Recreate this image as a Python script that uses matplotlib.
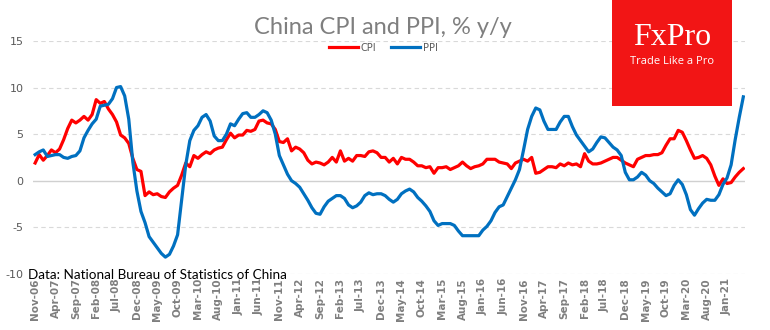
import numpy as np
import pandas as pd
import matplotlib
matplotlib.use("Agg")
import matplotlib.pyplot as plt
from matplotlib.patches import Rectangle

# monthly data, Nov-06 .. May-21
months = pd.date_range("2006-11-01", "2021-05-01", freq="MS")

cpi = [1.9, 2.8,
       2.2, 2.7, 3.3, 3.0, 3.4, 4.4, 5.6, 6.5, 6.2, 6.5, 6.9, 6.5,
       7.1, 8.7, 8.3, 8.5, 7.7, 7.1, 6.3, 4.9, 4.6, 4.0, 2.4, 1.2,
       1.0, -1.6, -1.2, -1.5, -1.4, -1.7, -1.8, -1.2, -0.8, -0.5, 0.6, 1.9,
       1.5, 2.7, 2.4, 2.8, 3.1, 2.9, 3.3, 3.5, 3.6, 4.4, 5.1, 4.6,
       4.9, 4.9, 5.4, 5.3, 5.5, 6.4, 6.5, 6.2, 6.1, 5.5, 4.2, 4.1,
       4.5, 3.2, 3.6, 3.4, 3.0, 2.2, 1.8, 2.0, 1.9, 1.7, 2.0, 2.5,
       2.0, 3.2, 2.1, 2.4, 2.1, 2.7, 2.7, 2.6, 3.1, 3.2, 3.0, 2.5,
       2.5, 2.0, 2.4, 1.8, 2.5, 2.3, 2.3, 2.0, 1.6, 1.6, 1.4, 1.5,
       0.8, 1.4, 1.4, 1.5, 1.2, 1.4, 1.6, 2.0, 1.6, 1.3, 1.5, 1.6,
       1.8, 2.3, 2.3, 2.3, 2.0, 1.9, 1.8, 1.3, 1.9, 2.1, 2.3, 2.1,
       2.5, 0.8, 0.9, 1.2, 1.5, 1.5, 1.4, 1.8, 1.6, 1.9, 1.7, 1.8,
       1.5, 2.9, 2.1, 1.8, 1.8, 1.9, 2.1, 2.3, 2.5, 2.5, 2.2, 1.9,
       1.7, 1.5, 2.3, 2.5, 2.7, 2.7, 2.8, 2.8, 3.0, 3.8, 4.5, 4.5,
       5.4, 5.2, 4.3, 3.3, 2.4, 2.5, 2.7, 2.4, 1.7, 0.5, -0.5, 0.2,
       -0.3, -0.2, 0.4, 0.9, 1.3]

ppi = [2.8, 3.1,
       3.3, 2.6, 2.7, 2.8, 2.8, 2.5, 2.4, 2.6, 2.7, 3.2, 4.6, 5.4,
       6.1, 6.6, 8.0, 8.1, 8.2, 8.8, 10.0, 10.1, 9.1, 6.6, 2.0, -1.1,
       -3.3, -4.5, -6.0, -6.6, -7.2, -7.8, -8.2, -7.9, -7.0, -5.8, -2.1, 1.7,
       4.3, 5.4, 5.9, 6.8, 7.1, 6.4, 4.8, 4.3, 4.3, 5.0, 6.1, 5.9,
       6.6, 7.2, 7.3, 6.8, 6.8, 7.1, 7.5, 7.3, 6.5, 5.0, 2.7, 1.7,
       0.7, 0.0, -0.3, -0.7, -1.4, -2.1, -2.9, -3.5, -3.6, -2.8, -2.2, -1.9,
       -1.6, -1.6, -1.9, -2.6, -2.9, -2.7, -2.3, -1.6, -1.3, -1.5, -1.4, -1.4,
       -1.6, -2.0, -2.3, -2.0, -1.4, -1.1, -0.9, -1.2, -1.8, -2.2, -2.7, -3.3,
       -4.3, -4.8, -4.6, -4.6, -4.6, -4.8, -5.4, -5.9, -5.9, -5.9, -5.9, -5.9,
       -5.3, -4.9, -4.3, -3.4, -2.8, -2.6, -1.7, -0.8, 0.1, 1.2, 3.3, 5.5,
       6.9, 7.8, 7.6, 6.4, 5.5, 5.5, 5.5, 6.3, 6.9, 6.9, 5.8, 4.9,
       4.3, 3.7, 3.1, 3.4, 4.1, 4.7, 4.6, 4.1, 3.6, 3.3, 2.7, 0.9,
       0.1, 0.1, 0.4, 0.9, 0.6, 0.0, -0.3, -0.8, -1.2, -1.6, -1.4, -0.5,
       0.1, -0.4, -1.5, -3.1, -3.7, -3.0, -2.4, -2.0, -2.1, -2.1, -1.5, -0.4,
       0.3, 1.7, 4.4, 6.8, 9.0]

yticks = [-10, -5, 0, 5, 10, 15]
labels = [m.strftime("%b-%y") for m in months]
x = np.arange(len(months))

fig = plt.figure(figsize=(7.7, 3.3), dpi=100)
ax = fig.add_axes([0.043, 0.170, 0.925, 0.706])

ax.plot(x, cpi, color="#ff0000", lw=2.3, label="CPI", solid_joinstyle="round")
ax.plot(x, ppi, color="#0070c0", lw=2.3, label="PPI", solid_joinstyle="round")

ax.set_ylim(-10, 15)
ax.set_xlim(-0.5, 174.5)
ax.set_yticks(yticks)
ax.set_yticklabels([str(v) for v in yticks])
for yv in [-10, -5, 5, 10, 15]:
    ax.axhline(yv, color="#d9d9d9", lw=0.8, ls=(0, (4, 3)), zorder=0)
ax.axhline(0, color="#d0d0d0", lw=1.0, zorder=0)

ax.set_xticks(x[::5])
ax.set_xticklabels(labels[::5], rotation=90, fontsize=7.5, fontweight="bold",
                   color="#7f7f7f")
ax.tick_params(axis="y", labelsize=8, labelcolor="#595959", length=0, pad=7)
ax.tick_params(axis="x", length=0, pad=3)
for s in ax.spines.values():
    s.set_visible(False)

fig.text(0.497, 0.918, "China CPI and PPI, % y/y", ha="center", va="center",
         fontsize=17, color="#7f7f7f", family="Lato")
fig.legend(loc="center", bbox_to_anchor=(0.498, 0.856), ncol=2, frameon=False,
           fontsize=7, labelcolor="#595959", handlelength=3, columnspacing=1.5,
           handletextpad=0.3)

fig.text(0.036, 0.167, "Data: National Bureau of Statistics of China",
         ha="left", va="center", fontsize=9.7, color="black", family="Lato")

# logo block
fig.patches.append(Rectangle((0.795, 0.679), 0.156, 0.325, transform=fig.transFigure,
                             facecolor="#f21515", edgecolor="none", zorder=5))
fig.text(0.873, 0.885, "FxPro", ha="center", va="center", fontsize=23,
         color="white", family="Liberation Serif", zorder=6)
fig.text(0.873, 0.815, "Trade Like a Pro", ha="center", va="center", fontsize=8,
         color="white", family="Open Sans", zorder=6)

fig.savefig("out.png", dpi=100)
